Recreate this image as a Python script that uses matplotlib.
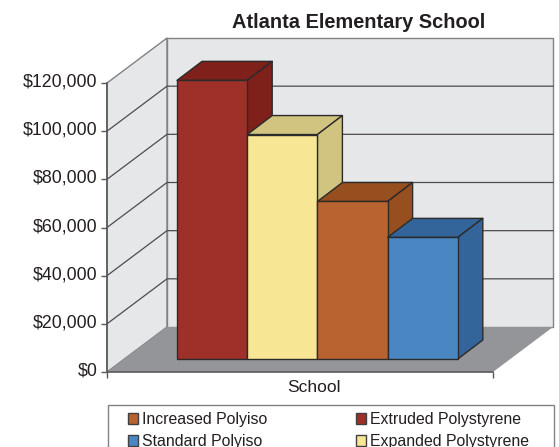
import matplotlib.pyplot as plt
from matplotlib.patches import Polygon, Patch, Rectangle
from matplotlib.transforms import ScaledTranslation

plt.rcParams['font.family'] = ['Liberation Sans', 'DejaVu Sans']

# values
series = ['Extruded Polystyrene', 'Expanded Polystyrene', 'Increased Polyiso', 'Standard Polyiso']
values = [115700, 93200, 65400, 50500]
face_colors = ['#9E2F29', '#F7E694', '#B96330', '#4A87C2']
dark_colors = ['#7F201B', '#D0C480', '#974F20', '#33659A']
yticks = [0, 20000, 40000, 60000, 80000, 100000, 120000]
ytick_labels = ['$0', '$20,000', '$40,000', '$60,000', '$80,000', '$100,000', '$120,000']
legend_order = ['Increased Polyiso', 'Standard Polyiso', 'Extruded Polystyrene', 'Expanded Polystyrene']

W, H = 559, 447
fig = plt.figure(figsize=(W / 100, H / 100), dpi=100)
# front plane of the box, x axis is in pixels
ax = fig.add_axes([107 / W, 1 - 372 / H, 386 / W, 289 / H])
ax.set_xlim(0, 386)
ax.set_ylim(0, 120000)
ax.patch.set_visible(False)

per_px = 120000 / 289
DX, DY = 60, 45 * per_px   # box depth
bar_dx, bar_dy = 25, 19 * per_px   # bar depth
off_x, off_y = 70, 13 * per_px    # where bars stand on the floor
bar_w = 70.2


def poly(pts, fc, ec='none', lw=0, z=1):
    ax.add_patch(Polygon(pts, closed=True, facecolor=fc, edgecolor=ec, linewidth=lw,
                         zorder=z, clip_on=False, joinstyle='round'))


# walls and floor
wall = '#E6E7E9'
edge = '#808285'
poly([(0, 0), (DX, DY), (DX, 120000 + DY), (0, 120000)], wall, edge, 1.0)
poly([(DX, DY), (386 + DX, DY), (386 + DX, 120000 + DY), (DX, 120000 + DY)], wall, edge, 1.0)
poly([(0, 0), (386, 0), (386 + DX, DY), (DX, DY)], '#939598', z=1.5)

for t in yticks[1:-1]:
    ax.plot([0, DX, 386 + DX], [t, t + DY, t + DY], color='#4D4D4F', lw=0.9, zorder=2, clip_on=False)

# bars, left to right so that each covers the side of the one before
x_left = off_x
for i, val in enumerate(values):
    top = off_y + val
    r = x_left + bar_w
    poly([(x_left, top), (r, top), (r + bar_dx, top + bar_dy), (x_left + bar_dx, top + bar_dy)],
         dark_colors[i], '#2B2B2B', 1.0, z=3)
    poly([(r, off_y), (r + bar_dx, off_y + bar_dy), (r + bar_dx, top + bar_dy), (r, top)],
         dark_colors[i], '#2B2B2B', 1.0, z=3)
    ax.bar(x_left, val, width=bar_w, bottom=off_y, align='edge', color=face_colors[i],
           edgecolor='#2B2B2B', linewidth=1.0, zorder=3, clip_on=False)
    x_left = r

for s in ['top', 'right']:
    ax.spines[s].set_visible(False)
for s in ['left', 'bottom']:
    ax.spines[s].set_color('#58595B')
    ax.spines[s].set_linewidth(1.2)
    ax.spines[s].set_zorder(4)

ax.set_yticks(yticks)
ax.set_yticklabels(ytick_labels, fontsize=12.8, color='#231F20')
ax.tick_params(axis='y', length=4.5, width=1.0, color='#58595B', pad=2.5)
shift = ScaledTranslation(0, 3 / 100, fig.dpi_scale_trans)
for lab in ax.get_yticklabels():
    lab.set_transform(lab.get_transform() + shift)
ax.set_xticks([0, 386])
ax.set_xticklabels([])
ax.tick_params(axis='x', length=4.5, width=1.0, color='#58595B')

fig.text(313.5 / W, 1 - 387 / H, 'School', fontsize=12.5, color='#231F20', ha='center', va='center')
fig.text(359 / W, 1 - 22 / H, 'Atlanta Elementary School', fontsize=14.4, fontweight='bold',
         color='#231F20', ha='center', va='center')

# legend box runs off the bottom of the picture
fig.add_artist(Rectangle((108 / W, 1 - 460 / H), 446 / W, 55 / H, transform=fig.transFigure,
                         facecolor='white', edgecolor='#808285', linewidth=1.0))
handles = [Patch(facecolor=face_colors[series.index(n)], edgecolor='#404041', linewidth=1.0, label=n)
           for n in legend_order]
leg = fig.legend(handles=handles, ncol=2, loc='upper left',
                 bbox_to_anchor=(128 / W, 1 - 412 / H),
                 fontsize=11.4, frameon=False, borderaxespad=0, borderpad=0,
                 handlelength=0.62, handleheight=0.7, handletextpad=0.25,
                 labelspacing=0.45, columnspacing=5.65, labelcolor='#231F20')

fig.savefig('out.png', dpi=100)
